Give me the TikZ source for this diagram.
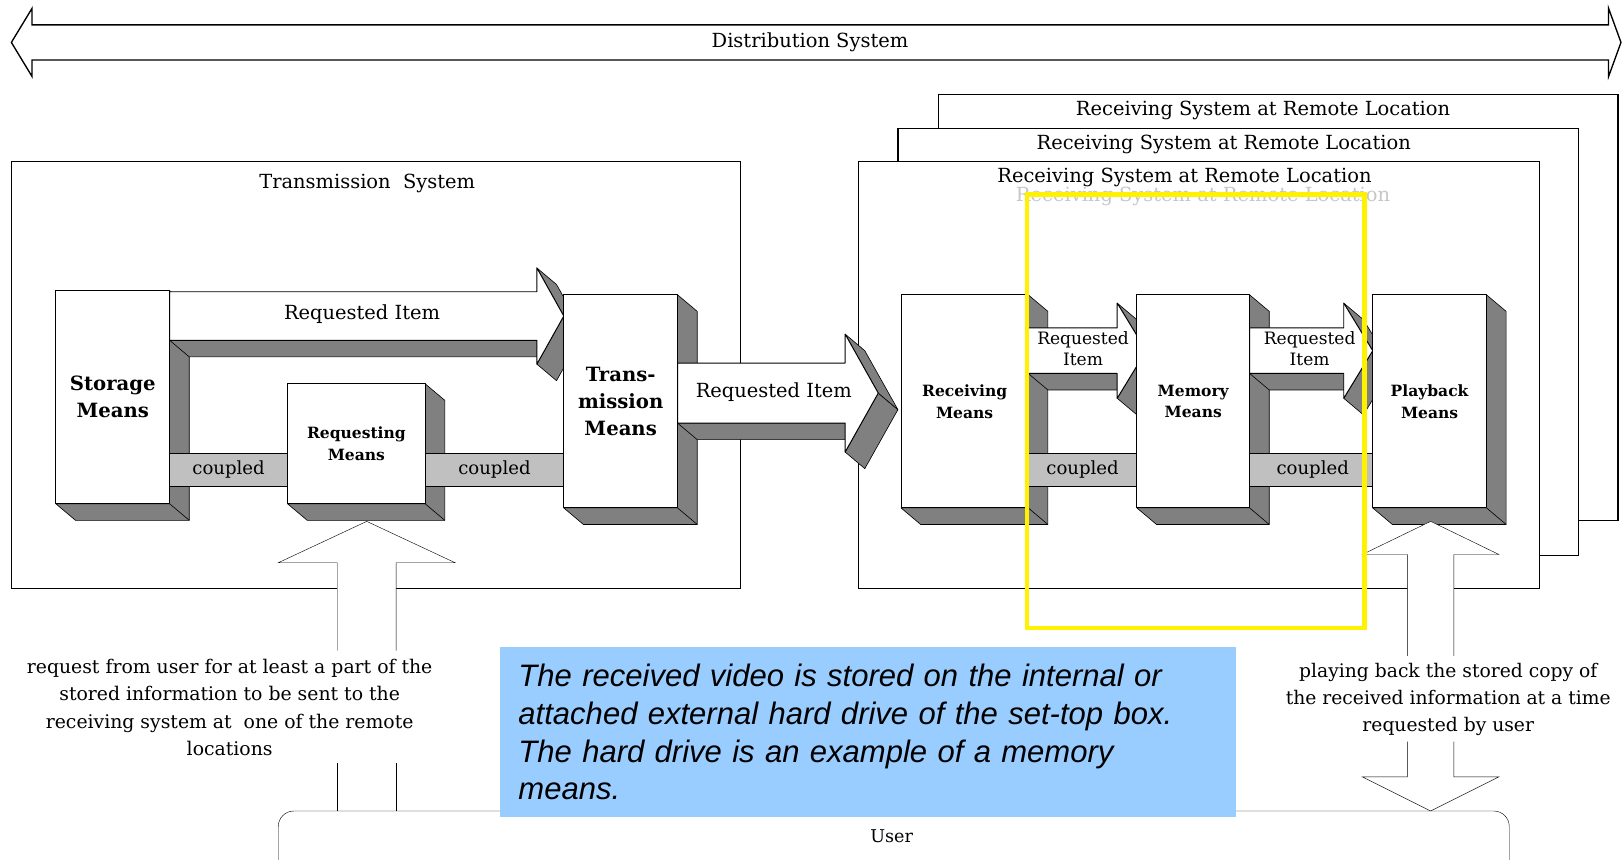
\documentclass[tikz,border=0pt]{standalone}
\usepackage{fontspec}
\setmainfont{DejaVu Serif}
\newfontfamily\notefont{Liberation Sans}

\definecolor{sidegray}{HTML}{808080}
\definecolor{bargray}{HTML}{C0C0C0}
\definecolor{noteblue}{HTML}{99CCFF}

\pgfdeclarelayer{frames}
\pgfdeclarelayer{sides}
\pgfdeclarelayer{links}
\pgfsetlayers{frames,sides,links,main}

% gray 3D side of a box node
\newcommand{\extrude}[1]{%
  \filldraw[sidefill] (#1.north east) -- ++(19,16) -- ([shift={(19,16)}]#1.south east)
    -- ([shift={(19,16)}]#1.south west) -- (#1.south west) -- (#1.south east) -- cycle;
  \draw[line width=0.6pt] (#1.south east) -- ++(19,16);
}

% 3D block arrow from node #1 to node #2
% #3 tip past #2.west, #4 axis y, #5 shaft half, #6 head half, #7 head length
\newcommand{\blockarrow}[7]{%
  \path (#1.east); \pgfgetlastxy{\bxa}{\bya}
  \path (#2.west); \pgfgetlastxy{\bxb}{\byb}
  \pgfmathsetmacro{\bxs}{\bxa}
  \pgfmathsetmacro{\bxt}{\bxb+(#3)}
  \pgfmathsetmacro{\bxh}{\bxt-(#7)}
  \begin{scope}[shift={(0,#4)}]
    \filldraw[sidefill] (\bxs,#5) -- (\bxh,#5) -- ++(19,16) -- (\bxs+19,#5+16) -- cycle;
    \filldraw[sidefill] (\bxt,0) -- (\bxh,#6) -- ++(19,16) -- (\bxt+19,16) -- cycle;
    \filldraw[sidefill] (\bxh,-#6) -- (\bxt,0) -- ++(19,16) -- (\bxh+19,-#6+16) -- cycle;
    \filldraw[frontface] (\bxs,-#5) -- (\bxh,-#5) -- (\bxh,-#6) -- (\bxt,0)
      -- (\bxh,#6) -- (\bxh,#5) -- (\bxs,#5) -- cycle;
  \end{scope}
}

\begin{document}
\begin{tikzpicture}[x=1pt, y=-1pt, line width=1.3pt,
    sysframe/.style={draw, fill=white, line width=1.2pt},
    sidefill/.style={fill=sidegray, draw, line width=0.6pt, line join=round},
    frontface/.style={fill=white, draw, line width=0.9pt, line join=round},
    meansbox/.style={frontface, anchor=north west, inner sep=0pt, outer sep=0pt, align=center},
    bigmeans/.style={meansbox, minimum width=110, minimum height=206, font=\bfseries\fontsize{19}{26}\selectfont},
    smallmeans/.style={meansbox, minimum height=206, font=\bfseries\fontsize{15}{21}\selectfont},
    couplebar/.style={fill=bargray, draw, anchor=west, inner sep=0pt, outer sep=0pt, minimum height=32, font=\fontsize{17.5}{18}\selectfont},
    titletext/.style={font=\fontsize{18.8}{20}\selectfont},
    itemtext/.style={font=\fontsize{18.8}{20}\selectfont},
    smallitem/.style={align=center, font=\fontsize{16.5}{21}\selectfont},
    usertext/.style={align=center, font=\fontsize{18.2}{26.3}\selectfont},
    notebox/.style={fill=noteblue, anchor=north west, minimum height=165, text width=676, inner xsep=18pt, inner ysep=2pt, align=left, font=\notefont\itshape\fontsize{30}{36.5}\selectfont}]
  \useasboundingbox (0,0) rectangle (1568,831);

  % Frames and titles
  \begin{pgfonlayer}{frames}
    \draw[fill=white, line width=1.3pt] (11,41) -- (31,8) -- (31,24) -- (1555,24) -- (1555,8) -- (1567,41)
      -- (1555,74) -- (1555,58) -- (31,58) -- (31,74) -- cycle;
    \node[titletext] (dist) at (783,41) {Distribution System};
    \draw[sysframe] (11,156) rectangle (716,569);
    \node[titletext] (txtitle) at (355,177) {Transmission\ \ System};
    \foreach \l/\t/\r/\b/\tx in {907/91/1564/503/1221, 868/124/1526/537/1183, 830/156/1488/569/1145} {
      \draw[sysframe] (\l,\t) rectangle (\r,\b);
      \node[titletext] (rxtitle\l) at (\tx,\t+16) {Receiving System at Remote Location};
    }
    \node[titletext, text=black!22] (ghost) at (1163,190) {Receiving System at Remote Location};
  \end{pgfonlayer}

  % Means boxes
  \node[bigmeans] (store) at (54,281) {Storage\\Means};
  \node[smallmeans, minimum width=133, minimum height=116] (req) at (278,371) {Requesting\\Means};
  \node[bigmeans] (trans) at (545,285) {Trans-\\mission\\Means};
  \node[smallmeans, minimum width=123] (recv) at (871,285) {Receiving\\Means};
  \node[smallmeans, minimum width=109] (mem) at (1099,285) {Memory\\Means};
  \node[smallmeans, minimum width=110] (play) at (1327,285) {Playback\\Means};

  % 3D sides of the boxes
  \begin{pgfonlayer}{sides}
    \foreach \b in {store,req,trans,recv,mem,play} {\extrude{\b}}
  \end{pgfonlayer}

  \begin{pgfonlayer}{links}
    % Requested item arrows
    \blockarrow{store}{trans}{0}{305.5}{23.5}{46.5}{26}
    \blockarrow{trans}{recv}{-22}{380}{29}{57}{32}
    \blockarrow{recv}{mem}{9}{339}{22}{46}{28}
    \blockarrow{mem}{play}{0}{339}{22}{46}{28}

    % Coupled bars
    \node[couplebar, minimum width=114] (cpl1) at (store.east |- 0,454) {coupled};
    \node[couplebar, minimum width=134] (cpl2) at (req.east |- 0,454) {coupled};
    \node[couplebar, minimum width=105] (cpl3) at (recv.east |- 0,454) {coupled};
    \node[couplebar, minimum width=122] (cpl4) at (mem.east |- 0,454) {coupled};

    % Request arrow up to the requesting means
    \coordinate (reqtip) at ([shift={(10,17)}]req.south);
    \fill[white] (reqtip) -- ++(-85.5,40) -- ++(57,0) -- ++(0,85) -- ++(57,0) -- ++(0,-85) -- ++(57,0) -- cycle;
    \draw (reqtip) -- ++(-85.5,40) -- ++(57,0) -- ++(0,85);
    \draw (reqtip) -- ++(85.5,40) -- ++(-57,0) -- ++(0,85);

    % Playback arrow up to the playback means
    \coordinate (playtip) at ([shift={(1,13)}]play.south);
    \fill[white] (playtip) -- ++(-66,32) -- ++(43.5,0) -- ++(0,98) -- ++(45,0) -- ++(0,-98) -- ++(43.5,0) -- cycle;
    \draw (playtip) -- ++(-66,32) -- ++(43.5,0) -- ++(0,98);
    \draw (playtip) -- ++(66,32) -- ++(-43.5,0) -- ++(0,98);
  \end{pgfonlayer}

  % Arrow labels
  \node[itemtext] (item1) at (350,304) {Requested Item};
  \node[itemtext] (item2) at (748,379) {Requested Item};
  \node[smallitem] (item3) at (1047,337) {Requested\\Item};
  \node[smallitem] (item4) at (1266,337) {Requested\\Item};

  % User
  \node[inner sep=0pt, outer sep=0pt, minimum width=1190, minimum height=50, anchor=north west] (user) at (269,784) {};
  \draw[rounded corners=15] (user.south west) -- (user.north west) -- (user.north east) -- (user.south east);
  \node[font=\fontsize{17}{18}\selectfont] (usertxt) at (862,808) {User};

  % lower parts of the two user arrows
  \draw (reqtip) ++(-28.5,234) -- ++(0,46);
  \draw (reqtip) ++(28.5,234) -- ++(0,46);
  \coordinate (usertip) at (playtip |- user.north);
  \draw (usertip) -- ++(-66,-33) -- ++(43.5,0) -- ++(0,-34);
  \draw (usertip) -- ++(66,-33) -- ++(-43.5,0) -- ++(0,-34);

  % Notes
  \node[usertext] (reqnote) at (222,684) {request from user for at least a part of the\\stored information to be sent to the\\receiving system at \ one of the remote\\locations};
  \node[usertext, font=\fontsize{18.1}{26}\selectfont] (playnote) at (1400,676) {playing back the stored copy of\\the received information at a time\\requested by user};
  \node[notebox] (note) at (483,625) {The received video is stored on the internal or\\attached external hard drive of the set-top box.\\The hard drive is an example of a memory\\means.};

  % Highlight of the memory means
  \draw[yellow, line width=4] (993,188) rectangle (1319,607);
\end{tikzpicture}
\end{document}
